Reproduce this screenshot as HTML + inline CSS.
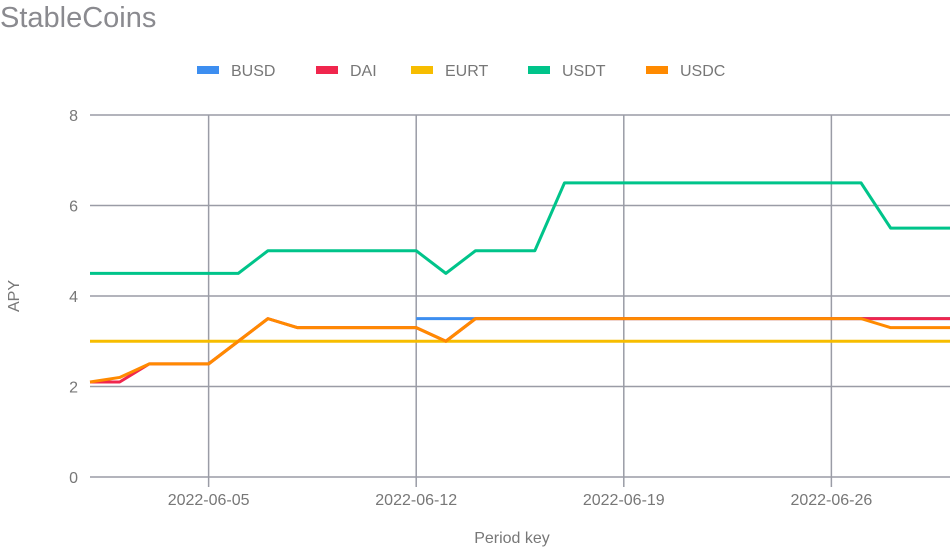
<!DOCTYPE html>
<html><head><meta charset="utf-8"><style>
body{margin:0;background:#fff;font-family:"Liberation Sans",sans-serif}
svg text{font-family:"Liberation Sans",sans-serif}
</style></head><body>
<svg id="c" width="950" height="549">
<text x="0" y="27" font-size="29" fill="#8a8a8f">StableCoins</text>
<g id="legend"></g><g id="grid"></g><g id="series"></g>
<text x="512" y="543" font-size="16" fill="#777" text-anchor="middle">Period key</text>
<text transform="translate(19,296) rotate(-90)" font-size="16" fill="#777" text-anchor="middle">APY</text>
</svg>
<script>
const names=["BUSD","DAI","EURT","USDT","USDC"];
const colors=["#3d8ef0","#f0264d","#f7bd00","#00c48a","#ff8a00"];
const busd=[null,null,null,null,null,null,null,null,null,null,null,3.5,3.5,3.5,3.5,3.5,3.5,3.5,3.5,3.5,3.5,3.5,3.5,3.5,3.5,3.5,3.5,3.5,3.5,3.5];
const dai=[2.1,2.1,2.5,2.5,2.5,3.0,3.5,3.3,3.3,3.3,3.3,3.3,3.0,3.5,3.5,3.5,3.5,3.5,3.5,3.5,3.5,3.5,3.5,3.5,3.5,3.5,3.5,3.5,3.5,3.5];
const eurt=[3,3,3,3,3,3,3,3,3,3,3,3,3,3,3,3,3,3,3,3,3,3,3,3,3,3,3,3,3,3];
const usdt=[4.5,4.5,4.5,4.5,4.5,4.5,5,5,5,5,5,5,4.5,5,5,5,6.5,6.5,6.5,6.5,6.5,6.5,6.5,6.5,6.5,6.5,6.5,5.5,5.5,5.5];
const usdc=[2.1,2.2,2.5,2.5,2.5,3.0,3.5,3.3,3.3,3.3,3.3,3.3,3.0,3.5,3.5,3.5,3.5,3.5,3.5,3.5,3.5,3.5,3.5,3.5,3.5,3.5,3.5,3.3,3.3,3.3];
const yTicks=[0,2,4,6,8];
const xTickIdx=[4,11,18,25];
const xTickLabels=["2022-06-05","2022-06-12","2022-06-19","2022-06-26"];
const all=[busd,dai,eurt,usdt,usdc];
const NS="http://www.w3.org/2000/svg";
const X0=90,X1=950,Y0=477,Y8=115;
const xs=i=>X0+i*(X1-X0)/29;
const ys=v=>Y0-v*(Y0-Y8)/8;
function mk(t,a,p){const e=document.createElementNS(NS,t);for(const k in a)e.setAttribute(k,a[k]);p.appendChild(e);return e;}
const grid=document.getElementById('grid');
yTicks.forEach(v=>{
 const l=mk('line',{x1:X0,x2:X1,y1:ys(v),y2:ys(v),stroke:'#9a9ca6','stroke-width':1.5},grid);
 
 
 const t=mk('text',{x:78,y:ys(v)+6,'font-size':16,fill:'#777','text-anchor':'end'},grid);t.textContent=v;
 
 
});
xTickIdx.forEach((i,k)=>{
 const l=mk('line',{x1:xs(i),x2:xs(i),y1:Y8,y2:Y0+10,stroke:'#9a9ca6','stroke-width':1.5},grid);
 
 
 const t=mk('text',{x:xs(i),y:505,'font-size':16,fill:'#777','text-anchor':'middle'},grid);t.textContent=xTickLabels[k];
 
 
});
const sg=document.getElementById('series');
all.forEach((d,s)=>{
 let p='';d.forEach((v,i)=>{if(v==null)return;p+=(p?'L':'M')+xs(i)+','+ys(v);});
 const e=mk('path',{d:p,fill:'none',stroke:colors[s],'stroke-width':3,'stroke-linejoin':'round'},sg);
 
 
});
const lg=document.getElementById('legend');
const lx=[197,316,411,528,646];
names.forEach((n,s)=>{
 const g=mk('g',{},lg);
 
 
 mk('rect',{x:lx[s],y:66,width:22,height:8,fill:colors[s]},g);
 const t=mk('text',{x:lx[s]+34,y:76,'font-size':16,fill:'#777'},g);t.textContent=n;
});
</script>
</body></html>
